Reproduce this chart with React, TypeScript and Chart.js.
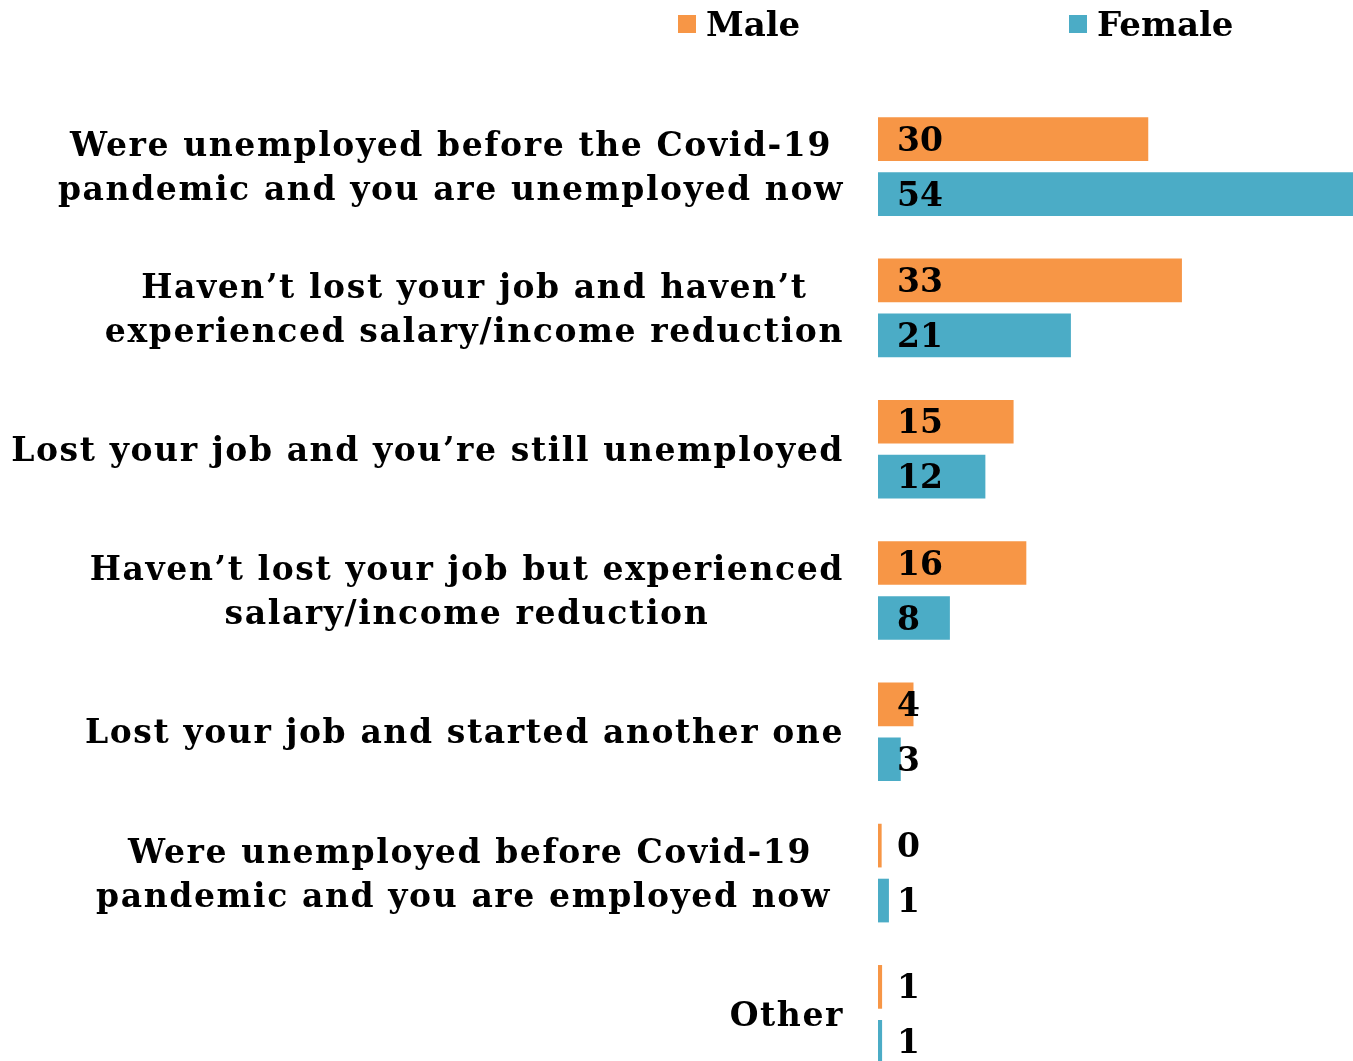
import React, { useEffect, useRef } from "react";
import { Chart, registerables } from "chart.js";

Chart.register(...registerables);

// ---- data ----
const categories: string[][] = [
  ["Were unemployed before the Covid-19", "pandemic and you are unemployed now"],
  ["Haven’t lost your job and haven’t", "experienced salary/income reduction"],
  ["Lost your job and you’re still unemployed"],
  ["Haven’t lost your job but experienced", "salary/income reduction"],
  ["Lost your job and started another one"],
  ["Were unemployed before Covid-19", "pandemic and you are employed now "],
  ["Other"],
];
const seriesNames = ["Male", "Female"];
const maleValues = [29.7, 33.4, 14.9, 16.3, 3.9, 0.4, 0.45];
const femaleValues = [54, 21.2, 11.8, 7.9, 2.5, 1.2, 0.45];
const maleLabels = ["30", "33", "15", "16", "4", "0", "1"];
const femaleLabels = ["54", "21", "12", "8", "3", "1", "1"];
const xMax = 52.2;

// ---- style ----
const COLORS = ["#F79646", "#4BACC6"];
const FONT = '"DejaVu Serif"';
const LABEL_SIZE = 33;
const LABEL_SPACING = "1.6px";
const LINE_H = 44;
const LABEL_GAP = 34;
const VALUE_OFFSET = 19;
const TEXT_DY = 3;
const LEGEND_SIZE = 34;
const LEGEND_X = [678, 1069];
const LEGEND_Y = 24;
const LEGEND_BOX = 18;

const textPlugin = {
  id: "customText",
  afterDatasetsDraw(chart: any) {
    const ctx: any = chart.ctx;
    const area = chart.chartArea;
    const yScale = chart.scales.y;
    ctx.save();
    ctx.fillStyle = "#000";
    ctx.textBaseline = "middle";

    // category labels
    ctx.font = `bold ${LABEL_SIZE}px ${FONT}`;
    ctx.letterSpacing = LABEL_SPACING;
    ctx.textAlign = "center";
    categories.forEach((lines, i) => {
      const yc = yScale.getPixelForValue(i) + TEXT_DY;
      const widest = Math.max(...lines.map((l) => ctx.measureText(l).width));
      const cx = area.left - LABEL_GAP - widest / 2;
      lines.forEach((l, j) => {
        ctx.fillText(l, cx, yc + (j - (lines.length - 1) / 2) * LINE_H);
      });
    });

    // value labels
    ctx.letterSpacing = "0px";
    ctx.textAlign = "left";
    [maleLabels, femaleLabels].forEach((labels, d) => {
      const meta = chart.getDatasetMeta(d);
      meta.data.forEach((el: any, i: number) => {
        ctx.fillText(labels[i], area.left + VALUE_OFFSET, el.y + TEXT_DY);
      });
    });

    // legend
    ctx.font = `bold ${LEGEND_SIZE}px ${FONT}`;
    seriesNames.forEach((name, d) => {
      ctx.fillStyle = COLORS[d];
      ctx.fillRect(LEGEND_X[d], LEGEND_Y - LEGEND_BOX / 2, LEGEND_BOX, LEGEND_BOX);
      ctx.fillStyle = "#000";
      ctx.fillText(name, LEGEND_X[d] + LEGEND_BOX + 10, LEGEND_Y + TEXT_DY);
    });
    ctx.restore();
  },
};

export default function App() {
  const ref = useRef<HTMLCanvasElement>(null);
  useEffect(() => {
    const chart = new Chart(ref.current!, {
      type: "bar",
      data: {
        labels: categories.map((c) => c.join(" ")),
        datasets: [
          { label: seriesNames[0], data: maleValues, backgroundColor: COLORS[0], borderWidth: 0 },
          { label: seriesNames[1], data: femaleValues, backgroundColor: COLORS[1], borderWidth: 0 },
        ],
      },
      options: {
        indexAxis: "y",
        animation: false,
        responsive: false,
        devicePixelRatio: 1,
        datasets: { bar: { categoryPercentage: 0.778, barPercentage: 0.795 } },
        layout: { padding: { left: 878, top: 96, right: 0, bottom: 15 } },
        plugins: { legend: { display: false }, tooltip: { enabled: false } },
        scales: {
          x: { display: false, min: 0, max: xMax },
          y: { display: false },
        },
      },
      plugins: [textPlugin],
    } as any);
    return () => chart.destroy();
  }, []);
  return (
    <div
      style={{
        position: "absolute",
        left: 0,
        top: 0,
        width: 1353,
        height: 1061,
        overflow: "hidden",
        background: "#fff",
      }}
    >
      <canvas ref={ref} width={1353} height={1100} style={{ display: "block" }} />
    </div>
  );
}
